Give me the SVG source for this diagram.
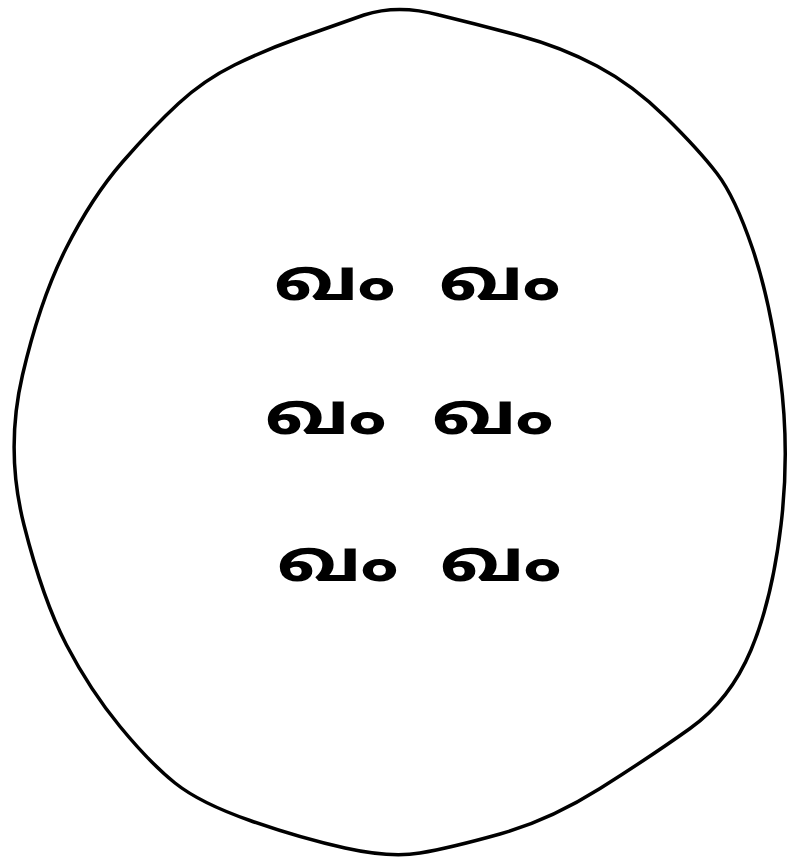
<svg xmlns="http://www.w3.org/2000/svg" width="795" height="859" viewBox="0 0 795 859">
<style>
.b{fill:none;stroke:#000;stroke-width:3.5;stroke-linejoin:round}
.t{font-family:"Noto Sans Malayalam","Noto Sans",sans-serif;font-size:58px;font-weight:bold;fill:#000;letter-spacing:4px}
</style>
<rect width="795" height="859" fill="#fff"/>
<g id="circle">
<path class="b" d="M 439 15 Q 480 25 520.5 36 Q 561 47 597 66 Q 633 85 666 117.5 Q 699 150 717 173.5 Q 735 197 752.5 248.5 Q 770 300 780 375 Q 790 450 781 525 Q 772 600 751 650 Q 730 700 690 728.5 Q 650 757 600 788.5 Q 550 820 500 834 Q 450 848 420 853 Q 390 858 345 848 Q 300 838 250 820.5 Q 200 803 175 783 Q 150 763 120 726.5 Q 90 690 66.5 645 Q 43 600 24 525 Q 5 450 22.5 375 Q 40 300 66 248.5 Q 92 197 122.5 162 Q 153 127 178.5 103.5 Q 204 80 234.5 65 Q 265 50 297.5 38.5 Q 330 27 364 15 Q 398 4 439 15 Z"/>
</g>
<g id="row1"><text class="t" transform="translate(274,300) scale(1.3,1)">ഖം</text><text class="t" transform="translate(439,300) scale(1.3,1)">ഖം</text></g>
<g id="row2"><text class="t" transform="translate(265,434) scale(1.3,1)">ഖം</text><text class="t" transform="translate(432,434) scale(1.3,1)">ഖം</text></g>
<g id="row3"><text class="t" transform="translate(277,581) scale(1.3,1)">ഖം</text><text class="t" transform="translate(440,581) scale(1.3,1)">ഖം</text></g>
</svg>
